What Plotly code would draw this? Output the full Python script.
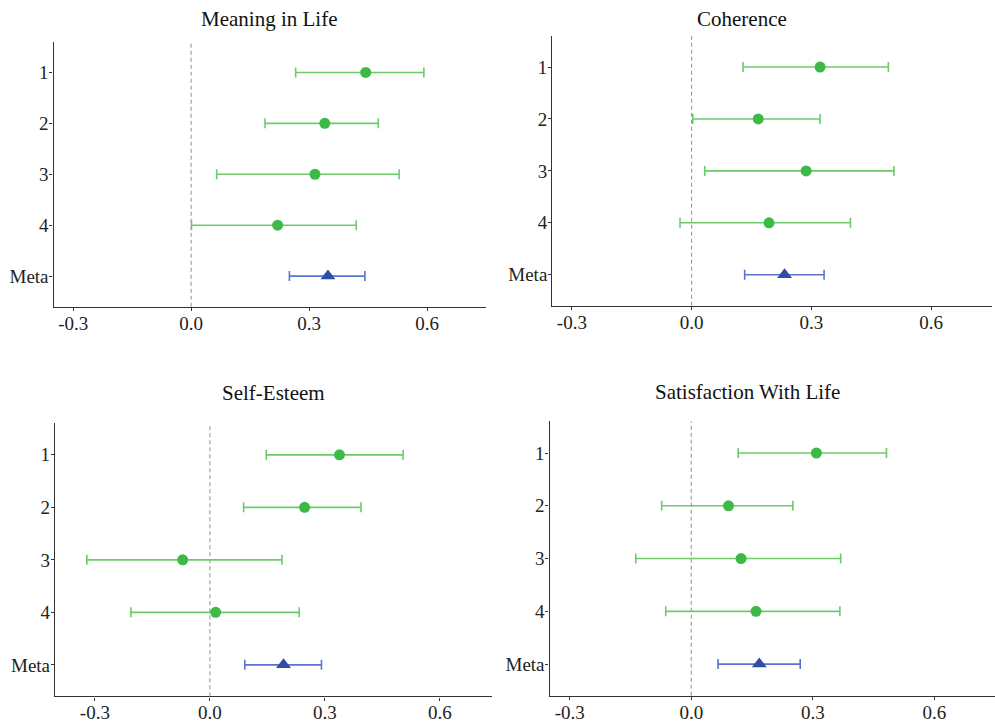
import plotly.graph_objects as go

W, H = 995, 723

# Panel titles and row labels
titles = ["Meaning in Life", "Coherence", "Self-Esteem", "Satisfaction With Life"]
row_labels = ["1", "2", "3", "4", "Meta"]

# Study estimates with 95% CI (studies 1-4) and the pooled meta-analytic estimate
mil_est = [0.444, 0.340, 0.315, 0.220]
mil_lo = [0.266, 0.188, 0.065, 0.001]
mil_hi = [0.592, 0.476, 0.529, 0.420]
mil_meta = [0.348, 0.250, 0.442]

coh_est = [0.322, 0.167, 0.287, 0.194]
coh_lo = [0.129, 0.003, 0.033, -0.029]
coh_hi = [0.493, 0.322, 0.507, 0.398]
coh_meta = [0.233, 0.133, 0.332]

se_est = [0.338, 0.247, -0.071, 0.015]
se_lo = [0.147, 0.088, -0.321, -0.206]
se_hi = [0.504, 0.394, 0.188, 0.233]
se_meta = [0.192, 0.091, 0.291]

swl_est = [0.309, 0.092, 0.123, 0.160]
swl_lo = [0.116, -0.073, -0.137, -0.063]
swl_hi = [0.482, 0.251, 0.369, 0.367]
swl_meta = [0.168, 0.066, 0.269]

x_ticks = [-0.3, 0.0, 0.3, 0.6]

panels = [
    (mil_est, mil_lo, mil_hi, mil_meta),
    (coh_est, coh_lo, coh_hi, coh_meta),
    (se_est, se_lo, se_hi, se_meta),
    (swl_est, swl_lo, swl_hi, swl_meta),
]

# Plot areas in pixels: (left, right, top, bottom), x-range, title centre
boxes = [
    (53.5, 486.0, 42.0, 307.5),
    (552.3, 991.7, 36.0, 306.7),
    (55.0, 491.7, 424.5, 698.3),
    (549.5, 995.0, 422.5, 697.7),
]
xranges = [[-0.35, 0.75], [-0.349, 0.752], [-0.404, 0.735], [-0.35, 0.75]]
title_pos = [(268.7, 19.5), (742.3, 19.5), (273.3, 394.0), (747.7, 393.0)]

GREEN = "rgb(62,185,72)"
GREEN_LINE = "rgb(108,202,108)"
BLUE = "rgb(46,78,162)"
BLUE_LINE = "rgb(88,116,206)"
FONT = "'Liberation Serif', 'Times New Roman', Times, serif"

fig = go.Figure()
layout = dict(
    width=W, height=H,
    margin=dict(l=0, r=0, t=0, b=0),
    paper_bgcolor="white", plot_bgcolor="white",
    showlegend=False,
    font=dict(family=FONT, size=19, color="#222"),
)
annotations = []
shapes = []

for i, ((est, lo, hi, meta), box, xr, tp, title) in enumerate(
        zip(panels, boxes, xranges, title_pos, titles)):
    n = i + 1
    xa = "x" if n == 1 else f"x{n}"
    ya = "y" if n == 1 else f"y{n}"
    left, right, top, bottom = box

    ys = list(range(1, len(est) + 1))
    fig.add_trace(go.Scatter(
        x=est, y=ys, mode="markers", xaxis=xa, yaxis=ya,
        marker=dict(symbol="circle", size=11, color=GREEN),
        error_x=dict(type="data", symmetric=False,
                     array=[h - e for h, e in zip(hi, est)],
                     arrayminus=[e - l for e, l in zip(est, lo)],
                     color=GREEN_LINE, thickness=1.6, width=5),
    ))
    m_est, m_lo, m_hi = meta
    fig.add_trace(go.Scatter(
        x=[m_est], y=[len(est) + 1], mode="markers", xaxis=xa, yaxis=ya,
        marker=dict(symbol="triangle-up", size=13, color=BLUE),
        error_x=dict(type="data", symmetric=False,
                     array=[m_hi - m_est], arrayminus=[m_est - m_lo],
                     color=BLUE_LINE, thickness=1.6, width=5),
    ))

    key_x = "xaxis" if n == 1 else f"xaxis{n}"
    key_y = "yaxis" if n == 1 else f"yaxis{n}"
    layout[key_x] = dict(
        domain=[left / W, right / W], anchor=ya, range=xr,
        tickvals=x_ticks, ticktext=[f"{v:.1f}" for v in x_ticks],
        showgrid=False, zeroline=False, showline=True,
        linecolor="#333", linewidth=1.3,
        ticks="outside", ticklen=3, tickcolor="#333", tickwidth=1,
        ticklabelstandoff=-4,
        tickfont=dict(family=FONT, size=19, color="#222"),
    )
    layout[key_y] = dict(
        domain=[1 - bottom / H, 1 - top / H], anchor=xa,
        range=[len(row_labels) + 0.6, 0.4],
        tickvals=list(range(1, len(row_labels) + 1)), ticktext=row_labels,
        showgrid=False, zeroline=False, showline=True,
        linecolor="#333", linewidth=1.3,
        ticks="outside", ticklen=3, tickcolor="#333", tickwidth=1,
        ticklabelstandoff=-3,
        tickfont=dict(family=FONT, size=19, color="#222"),
    )

    # dashed reference line at zero
    shapes.append(dict(
        type="line", xref=xa, yref=f"{ya} domain",
        x0=0, x1=0, y0=0, y1=1,
        line=dict(color="#999", width=1.1, dash="4px,3px"),
        layer="below",
    ))

    annotations.append(dict(
        text=title, xref="paper", yref="paper",
        x=tp[0] / W, y=1 - tp[1] / H, xanchor="center", yanchor="middle",
        showarrow=False, font=dict(family=FONT, size=21, color="#111"),
    ))

layout["annotations"] = annotations
layout["shapes"] = shapes
fig.update_layout(**layout)
fig.write_html("out.html")
